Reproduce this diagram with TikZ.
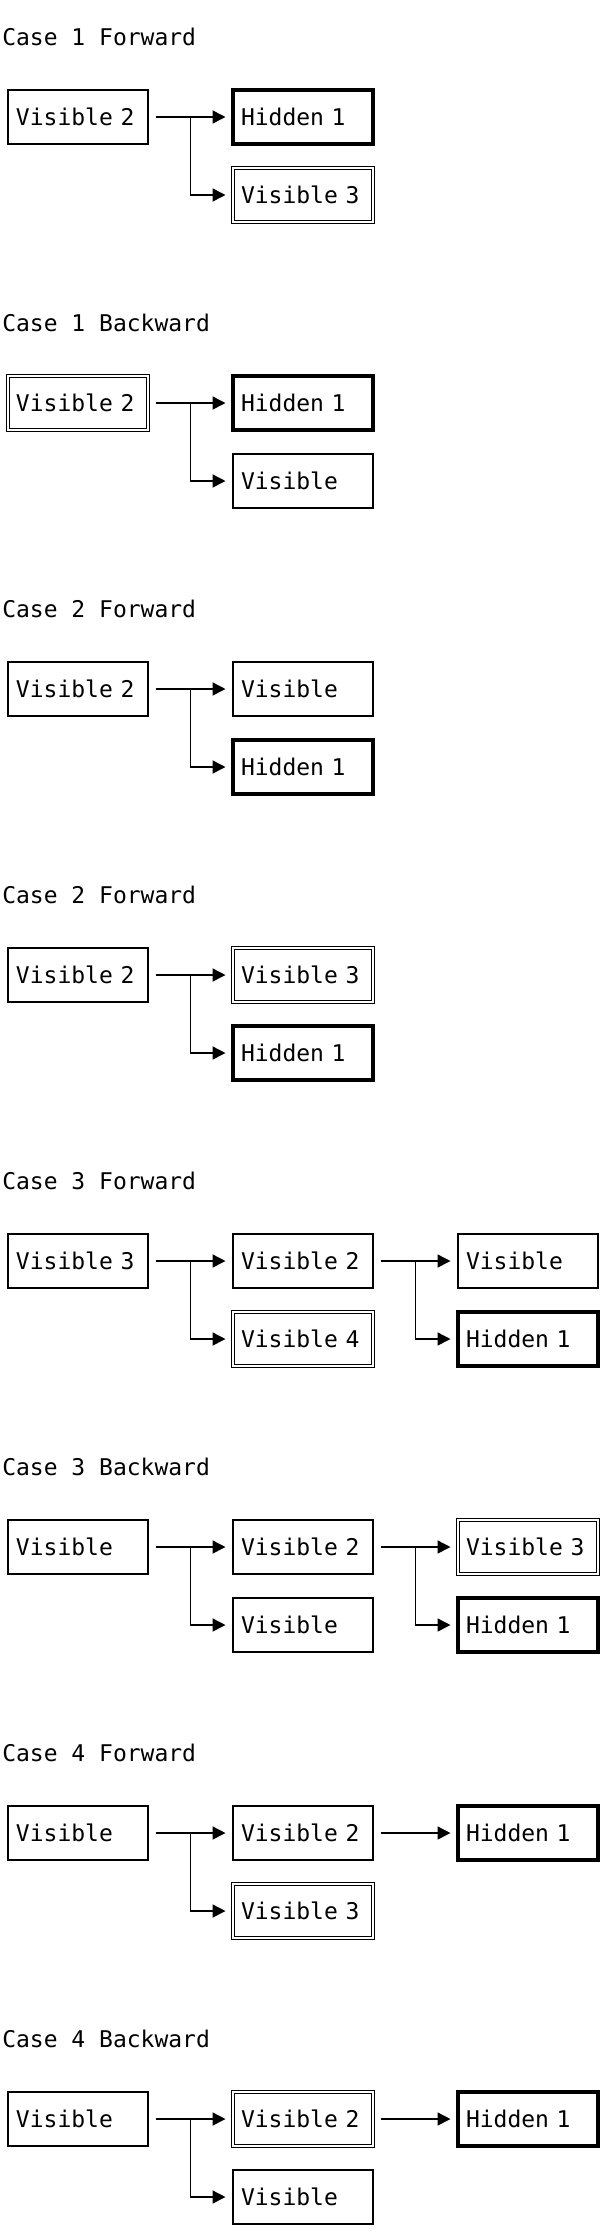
\documentclass[tikz,border=0pt]{standalone}
\usepackage{fontspec}
\setmonofont{DejaVu Sans Mono}
\usetikzlibrary{arrows.meta,calc}

\begin{document}
\begin{tikzpicture}[x=1pt, y=-1pt, node distance={225pt}, line width=1.5pt,
        font=\ttfamily\fontsize{23pt}{27pt}\selectfont,
        title/.style = {anchor=base west, inner sep=0pt},
        main/.style = {draw, rectangle, minimum width=140pt, minimum height=54pt, text width=124pt, align=left, inner xsep=8pt, inner ysep=0pt, outer xsep=7.5pt, outer ysep=0pt, text height=17pt, text depth=1pt},
        hid/.style = {main, line width=3.4pt},
        dbl/.style = {main, double, double distance=2.4pt, line width=1.1pt},
        arr/.style = {-{Triangle[length=13pt, width=13pt]}, line width=1.5pt}]

        \useasboundingbox (0,0) rectangle (604,2238);

        % case 1 forward
        \node[title] (t1) at (1.5,45) {Case 1 Forward};
        \node[main] (a1) at (78,117) {Visible 2};
        \node[hid] (b1) [right of=a1] {Hidden 1};
        \node[dbl] (c1) [node distance=78pt, below of=b1] {Visible 3};

        \draw[arr] (a1) -- (b1);
        \draw[arr] ($(a1.east)!.5!(b1.west)$) |- (c1);

        % case 1 backward
        \node[title] (t2) at (1.5,331) {Case 1 Backward};
        \node[dbl] (a2) at (78,403) {Visible 2};
        \node[hid] (b2) [right of=a2] {Hidden 1};
        \node[main] (c2) [node distance=78pt, below of=b2] {Visible};

        \draw[arr] (a2) -- (b2);
        \draw[arr] ($(a2.east)!.5!(b2.west)$) |- (c2);

        % case 2 forward
        \node[title] (t3) at (1.5,617) {Case 2 Forward};
        \node[main] (a3) at (78,689) {Visible 2};
        \node[main] (b3) [right of=a3] {Visible};
        \node[hid] (c3) [node distance=78pt, below of=b3] {Hidden 1};

        \draw[arr] (a3) -- (b3);
        \draw[arr] ($(a3.east)!.5!(b3.west)$) |- (c3);

        % case 2 forward, again
        \node[title] (t4) at (1.5,903) {Case 2 Forward};
        \node[main] (a4) at (78,975) {Visible 2};
        \node[dbl] (b4) [right of=a4] {Visible 3};
        \node[hid] (c4) [node distance=78pt, below of=b4] {Hidden 1};

        \draw[arr] (a4) -- (b4);
        \draw[arr] ($(a4.east)!.5!(b4.west)$) |- (c4);

        % case 3 forward
        \node[title] (t5) at (1.5,1189) {Case 3 Forward};
        \node[main] (a5) at (78,1261) {Visible 3};
        \node[main] (b5) [right of=a5] {Visible 2};
        \node[dbl] (c5) [node distance=78pt, below of=b5] {Visible 4};
        \node[main] (d5) [right of=b5] {Visible};
        \node[hid] (e5) [node distance=78pt, below of=d5] {Hidden 1};

        \draw[arr] (a5) -- (b5);
        \draw[arr] ($(a5.east)!.5!(b5.west)$) |- (c5);
        \draw[arr] (b5) -- (d5);
        \draw[arr] ($(b5.east)!.5!(d5.west)$) |- (e5);

        % case 3 backward
        \node[title] (t6) at (1.5,1475) {Case 3 Backward};
        \node[main] (a6) at (78,1547) {Visible};
        \node[main] (b6) [right of=a6] {Visible 2};
        \node[main] (c6) [node distance=78pt, below of=b6] {Visible};
        \node[dbl] (d6) [right of=b6] {Visible 3};
        \node[hid] (e6) [node distance=78pt, below of=d6] {Hidden 1};

        \draw[arr] (a6) -- (b6);
        \draw[arr] ($(a6.east)!.5!(b6.west)$) |- (c6);
        \draw[arr] (b6) -- (d6);
        \draw[arr] ($(b6.east)!.5!(d6.west)$) |- (e6);

        % case 4 forward
        \node[title] (t7) at (1.5,1761) {Case 4 Forward};
        \node[main] (a7) at (78,1833) {Visible};
        \node[main] (b7) [right of=a7] {Visible 2};
        \node[dbl] (c7) [node distance=78pt, below of=b7] {Visible 3};
        \node[hid] (d7) [right of=b7] {Hidden 1};

        \draw[arr] (a7) -- (b7);
        \draw[arr] ($(a7.east)!.5!(b7.west)$) |- (c7);
        \draw[arr] (b7) -- (d7);

        % case 4 backward
        \node[title] (t8) at (1.5,2047) {Case 4 Backward};
        \node[main] (a8) at (78,2119) {Visible};
        \node[dbl] (b8) [right of=a8] {Visible 2};
        \node[main] (c8) [node distance=78pt, below of=b8] {Visible};
        \node[hid] (d8) [right of=b8] {Hidden 1};

        \draw[arr] (a8) -- (b8);
        \draw[arr] ($(a8.east)!.5!(b8.west)$) |- (c8);
        \draw[arr] (b8) -- (d8);

\end{tikzpicture}
\end{document}
